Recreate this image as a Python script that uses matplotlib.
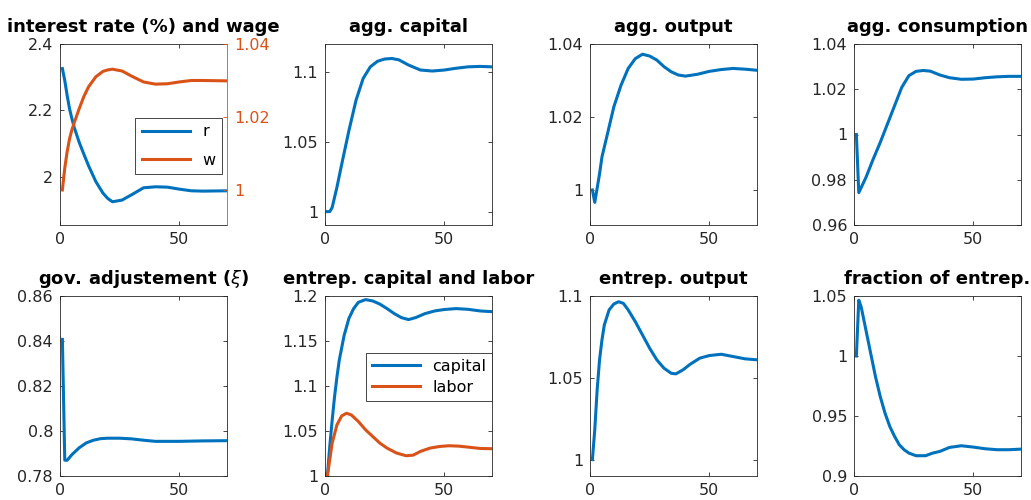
import matplotlib
matplotlib.use("Agg")
import matplotlib.pyplot as plt

plt.rcParams['font.family'] = ['DejaVu Sans']
plt.rcParams['mathtext.fontset'] = 'dejavusans'

BLUE = '#0072BD'
ORANGE = '#D95319'
AXC = '#262626'

# ---- data ----
t_r = [1, 2, 3, 4, 5, 6, 8, 10, 12, 15, 18, 20, 22, 26, 30, 35, 40, 45, 50, 55, 60, 70]
r_vals = [2.326, 2.29, 2.245, 2.205, 2.175, 2.148, 2.105, 2.068, 2.033, 1.986, 1.951, 1.935, 1.925,
          1.930, 1.946, 1.967, 1.970, 1.969, 1.963, 1.958, 1.957, 1.958]
t_w = [1, 2, 3, 4, 5, 6, 8, 10, 12, 15, 18, 20, 22, 26, 30, 35, 40, 45, 50, 55, 60, 70]
w_vals = [1.0, 1.006, 1.0105, 1.014, 1.0165, 1.0185, 1.0222, 1.0256, 1.0283, 1.031, 1.0325, 1.0329,
          1.0331, 1.0326, 1.0312, 1.0296, 1.029, 1.0291, 1.0296, 1.030, 1.030, 1.0299]

t_k = [1, 2, 3, 5, 7, 10, 13, 16, 19, 22, 25, 28, 31, 35, 40, 45, 50, 55, 60, 65, 70]
k_vals = [1.0, 1.0, 1.003, 1.0175, 1.034, 1.058, 1.080, 1.0957, 1.104, 1.108, 1.1096, 1.110, 1.109,
          1.1053, 1.1017, 1.101, 1.1017, 1.103, 1.104, 1.1043, 1.104]

t_y = [1, 2, 4, 5, 7, 10, 13, 16, 19, 22, 25, 28, 31, 34, 37, 40, 45, 50, 55, 60, 65, 70]
y_vals = [1.0, 0.9966, 1.0044, 1.009, 1.0145, 1.0228, 1.0287, 1.0333, 1.036, 1.0372, 1.0367, 1.0356,
          1.0338, 1.0324, 1.0315, 1.0312, 1.0317, 1.0325, 1.033, 1.0333, 1.0331, 1.0328]

t_c = [1, 2, 5, 8, 11, 14, 17, 20, 23, 26, 29, 32, 36, 40, 45, 50, 55, 60, 65, 70]
c_vals = [1.0, 0.9743, 0.981, 0.989, 0.9965, 1.0046, 1.0127, 1.0208, 1.026, 1.0279, 1.0283, 1.028,
          1.0263, 1.0251, 1.0244, 1.0245, 1.0251, 1.0255, 1.0257, 1.0257]

t_g = [1, 2, 3, 5, 8, 11, 14, 17, 20, 25, 30, 35, 40, 45, 50, 60, 70]
g_vals = [0.8407, 0.787, 0.787, 0.7895, 0.7925, 0.7947, 0.7959, 0.7966, 0.7968, 0.7968, 0.7965,
          0.7959, 0.7954, 0.7954, 0.7954, 0.7956, 0.7957]

t_ek = [1, 2, 3, 4, 5, 6, 8, 10, 12, 14, 17, 20, 23, 26, 29, 32, 35, 38, 42, 46, 50, 55, 60, 65, 70]
ek_vals = [1.0, 1.033, 1.062, 1.088, 1.110, 1.129, 1.156, 1.175, 1.186, 1.193, 1.196, 1.1945, 1.191,
           1.186, 1.1805, 1.176, 1.1738, 1.176, 1.1805, 1.1834, 1.185, 1.186, 1.1852, 1.1834, 1.1826]
t_el = [1, 3, 5, 7, 9, 11, 14, 17, 20, 23, 26, 30, 34, 37, 40, 44, 48, 52, 56, 60, 65, 70]
el_vals = [1.0, 1.0365, 1.0568, 1.0668, 1.0697, 1.0679, 1.0605, 1.0513, 1.0439, 1.0365, 1.031,
           1.0255, 1.0225, 1.0232, 1.0273, 1.031, 1.0328, 1.0336, 1.0332, 1.0321, 1.0306, 1.0303]

t_ey = [1, 2, 3, 4, 5, 6, 8, 10, 12, 14, 16, 19, 22, 25, 28, 31, 34, 36, 39, 42, 46, 50, 55, 60, 65, 70]
ey_vals = [1.0, 1.0183, 1.0427, 1.061, 1.073, 1.0823, 1.0915, 1.0951, 1.0965, 1.0955, 1.0915, 1.0843,
           1.0762, 1.0681, 1.061, 1.0559, 1.0528, 1.0524, 1.0549, 1.0583, 1.062, 1.0636, 1.0644,
           1.063, 1.0616, 1.061]

t_f = [1, 2, 3, 5, 7, 9, 11, 13, 15, 17, 19, 21, 23, 26, 30, 33, 36, 40, 45, 50, 55, 60, 65, 70]
f_vals = [1.0, 1.0465, 1.041, 1.0216, 1.0022, 0.9828, 0.9662, 0.9524, 0.9413, 0.933, 0.926, 0.9219,
          0.9191, 0.9169, 0.9169, 0.9191, 0.9205, 0.9238, 0.9252, 0.9241, 0.9227, 0.9219, 0.9219, 0.9224]

W, H = 1031, 500
fig = plt.figure(figsize=(W / 100, H / 100), dpi=100)

cols = [(60, 227), (325, 492), (590, 757), (854, 1021)]
rows = [(44, 225), (296, 476)]

TICK_FS = 11.5
TITLE_FS = 13
LEG_FS = 11.5


def make_ax(r, c):
    (x0, x1), (y0, y1) = cols[c], rows[r]
    return fig.add_axes([x0 / W, 1 - y1 / H, (x1 - x0) / W, (y1 - y0) / H])


def style(ax, title, ylim, yticks, yticklabels):
    ax.set_xlim(0, 70)
    ax.set_xticks([0, 50])
    ax.set_ylim(*ylim)
    ax.set_yticks(yticks)
    ax.set_yticklabels(yticklabels)
    ax.tick_params(direction='in', length=3, width=0.6, colors=AXC,
                   labelsize=TICK_FS, top=True, right=True, pad=5)
    for s in ax.spines.values():
        s.set_color(AXC)
        s.set_linewidth(0.6)
    ax.set_title(title, fontsize=TITLE_FS, fontweight='bold', pad=9)


LW = 2.2

# panel 1
ax = make_ax(0, 0)
l1, = ax.plot(t_r, r_vals, color=BLUE, lw=LW, label='r')
style(ax, 'interest rate (%) and wage', (1.855, 2.4), [2.0, 2.2, 2.4], ['2', '2.2', '2.4'])
ax.tick_params(right=False)
ax.spines['right'].set_visible(False)
ax2 = ax.twinx()
l2, = ax2.plot(t_w, w_vals, color=ORANGE, lw=LW, label='w')
ax2.set_ylim(0.9904, 1.04)
ax2.set_yticks([1.0, 1.02, 1.04])
ax2.set_yticklabels(['1', '1.02', '1.04'])
ax2.tick_params(direction='in', length=3, width=0.6, colors=ORANGE, labelsize=TICK_FS, pad=5)
for k, s in ax2.spines.items():
    s.set_visible(k == 'right')
ax2.spines['right'].set_color(ORANGE)
ax2.spines['right'].set_linewidth(0.6)
leg = ax2.legend(handles=[l1, l2], loc='upper right', bbox_to_anchor=(0.97, 0.591),
                 borderaxespad=0, fontsize=LEG_FS, handlelength=3.0, fancybox=False,
                 edgecolor=AXC, framealpha=1, borderpad=0.4, labelspacing=0.85)
leg.get_frame().set_linewidth(0.6)

# panel 2
ax = make_ax(0, 1)
ax.plot(t_k, k_vals, color=BLUE, lw=LW)
style(ax, 'agg. capital', (0.9904, 1.1204), [1.0, 1.05, 1.1], ['1', '1.05', '1.1'])

# panel 3
ax = make_ax(0, 2)
ax.plot(t_y, y_vals, color=BLUE, lw=LW)
style(ax, 'agg. output', (0.9904, 1.04), [1.0, 1.02, 1.04], ['1', '1.02', '1.04'])

# panel 4
ax = make_ax(0, 3)
ax.plot(t_c, c_vals, color=BLUE, lw=LW)
style(ax, 'agg. consumption', (0.96, 1.04), [0.96, 0.98, 1.0, 1.02, 1.04],
      ['0.96', '0.98', '1', '1.02', '1.04'])

# panel 5
ax = make_ax(1, 0)
ax.plot(t_g, g_vals, color=BLUE, lw=LW)
style(ax, r'gov. adjustement ($\xi$)', (0.78, 0.86), [0.78, 0.8, 0.82, 0.84, 0.86],
      ['0.78', '0.8', '0.82', '0.84', '0.86'])

# panel 6
ax = make_ax(1, 1)
a, = ax.plot(t_ek, ek_vals, color=BLUE, lw=LW, label='capital')
b, = ax.plot(t_el, el_vals, color=ORANGE, lw=LW, label='labor')
style(ax, 'entrep. capital and labor', (1.0, 1.2), [1.0, 1.05, 1.1, 1.15, 1.2],
      ['1', '1.05', '1.1', '1.15', '1.2'])
leg = ax.legend(handles=[a, b], loc='upper right', bbox_to_anchor=(1.0, 0.683),
                borderaxespad=0, fontsize=LEG_FS, handlelength=3.0, fancybox=False,
                edgecolor=AXC, framealpha=1, borderpad=0.35, labelspacing=0.4)
leg.get_frame().set_linewidth(0.6)

# panel 7
ax = make_ax(1, 2)
ax.plot(t_ey, ey_vals, color=BLUE, lw=LW)
style(ax, 'entrep. output', (0.99, 1.1), [1.0, 1.05, 1.1], ['1', '1.05', '1.1'])

# panel 8
ax = make_ax(1, 3)
ax.plot(t_f, f_vals, color=BLUE, lw=LW)
style(ax, 'fraction of entrep.', (0.9, 1.05), [0.9, 0.95, 1.0, 1.05], ['0.9', '0.95', '1', '1.05'])

fig.savefig('out.png', dpi=100)
